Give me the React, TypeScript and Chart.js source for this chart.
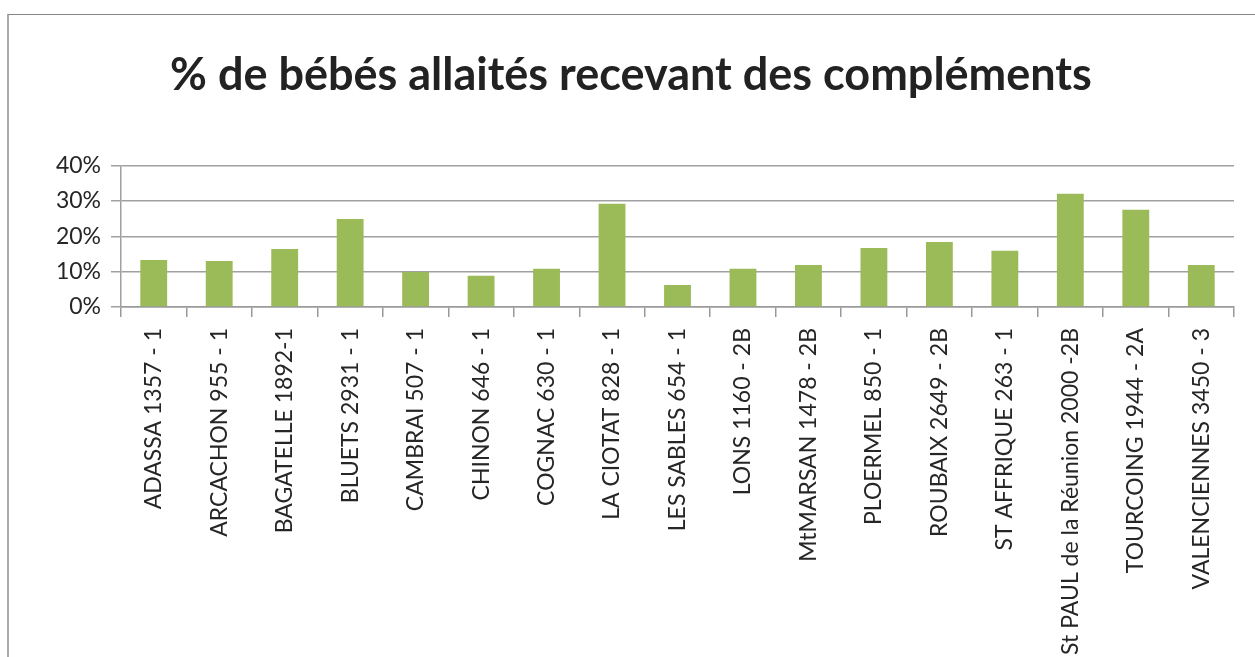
import React, { useEffect, useRef } from "react";
import { Chart, registerables } from "chart.js";

Chart.register(...registerables);

const categories = [
  "ADASSA 1357 - 1",
  "ARCACHON 955 - 1",
  "BAGATELLE 1892-1",
  "BLUETS 2931 - 1",
  "CAMBRAI 507 - 1",
  "CHINON 646 - 1",
  "COGNAC 630 - 1",
  "LA CIOTAT 828 - 1",
  "LES SABLES 654 - 1",
  "LONS 1160 - 2B",
  "MtMARSAN 1478 - 2B",
  "PLOERMEL 850 - 1",
  "ROUBAIX 2649 - 2B",
  "ST AFFRIQUE 263 - 1",
  "St PAUL de la Réunion 2000 -2B",
  "TOURCOING 1944 - 2A",
  "VALENCIENNES 3450 - 3",
];

const values = [
  0.133, 0.13, 0.164, 0.249, 0.099, 0.088, 0.108, 0.292, 0.062, 0.108, 0.119,
  0.167, 0.184, 0.159, 0.32, 0.275, 0.119,
];

const yTicks = [0, 0.1, 0.2, 0.3, 0.4];
const title = "% de bébés allaités recevant des compléments";

const FONT = "Lato, 'Open Sans', sans-serif";

export default function App() {
  const ref = useRef<HTMLCanvasElement>(null);
  useEffect(() => {
    if (!ref.current) return;
    const chart = new Chart(ref.current, {
      type: "bar",
      data: {
        labels: categories,
        datasets: [
          {
            data: values,
            backgroundColor: "#9BBB59",
            borderWidth: 0,
            categoryPercentage: 1,
            barPercentage: 0.41,
          },
        ],
      },
      options: {
        animation: false,
        responsive: false,
        maintainAspectRatio: false,
        layout: { padding: { left: 19, right: 21, top: 0, bottom: 0 } },
        plugins: {
          legend: { display: false },
          tooltip: { enabled: false },
          title: {
            display: true,
            text: title,
            color: "#222222",
            font: { family: FONT, size: 45, weight: "bold", lineHeight: 1.2 },
            padding: { top: 33, bottom: 63.5 },
          },
        },
        scales: {
          x: {
            type: "category",
            afterFit: (s: any) => {
              s.height = 408;
            },
            grid: {
              offset: true,
              drawOnChartArea: false,
              drawTicks: true,
              tickLength: 10,
              color: "#999999",
              lineWidth: 1.5,
            },
            border: { display: true, color: "#999999", width: 1.5 },
            ticks: {
              autoSkip: false,
              maxRotation: 90,
              minRotation: 90,
              padding: 11,
              color: "#262626",
              font: { family: FONT, size: 23 },
            },
          },
          y: {
            min: 0,
            max: 0.4,
            afterFit: (s: any) => {
              s.width = 93;
            },
            afterBuildTicks: (s: any) => {
              s.ticks = yTicks.map((v) => ({ value: v }));
            },
            grid: {
              drawTicks: true,
              tickLength: 10,
              color: "#a0a0a0",
              lineWidth: 1.5,
            },
            border: { display: true, color: "#a0a0a0", width: 1.5 },
            ticks: {
              padding: 10,
              color: "#262626",
              font: { family: FONT, size: 23 },
              callback: (v: any) => Math.round(Number(v) * 100) + "%",
            },
          },
        },
      },
    });
    return () => chart.destroy();
  }, []);

  return (
    <div
      style={{
        position: "absolute",
        left: 7,
        top: 14,
        width: 1300,
        height: 720,
        borderTop: "1px solid #858585",
        borderLeft: "2px solid #ababab",
        background: "#ffffff",
      }}
    >
      <canvas
        ref={ref}
        width={1246}
        height={700}
        style={{ position: "absolute", left: 0, top: 0, width: 1246, height: 700 }}
      />
    </div>
  );
}
